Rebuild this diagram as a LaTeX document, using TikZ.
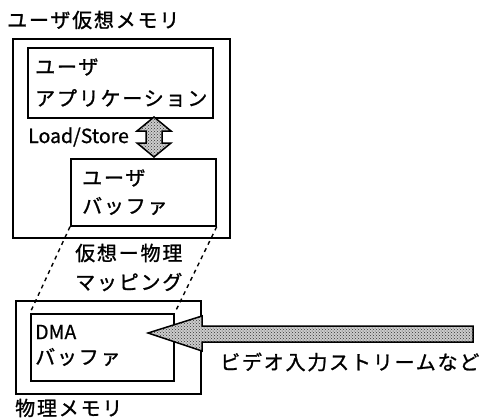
\documentclass[tikz,border=0pt]{standalone}
\usepackage{fontspec}
\setmainfont{Noto Sans CJK JP}[FakeBold=0.8]
\newfontfamily\jp{Noto Sans CJK JP}[LetterSpace=9,FakeBold=1.2]
\usetikzlibrary{patterns}
\begin{document}
\begin{tikzpicture}[x=1pt,y=-1pt,
  box/.style={draw,line width=1.7pt,inner sep=0pt,anchor=north west},
  jt/.style={font=\jp\fontsize{20}{20}\selectfont,inner sep=0pt,anchor=west},
  lt/.style={font=\fontsize{19.5}{20}\selectfont,inner sep=0pt,anchor=west},
  hatch/.style={draw,line width=1.5pt,line join=miter,preaction={fill=gray!40},pattern=crosshatch dots,pattern color=black!80},
  map/.style={dash pattern=on 4pt off 4pt,line width=1.4pt}]
\useasboundingbox (0,0) rectangle (486,418);
% boxes
\node[box,minimum width=217pt,minimum height=199pt] (uvm) at (12,38) {};
\node[box,minimum width=185pt,minimum height=70pt] (app) at (27,47) {};
\node[box,minimum width=145pt,minimum height=67pt] (ubuf) at (70,158) {};
\node[box,minimum width=185pt,minimum height=93pt] (pm) at (15,300) {};
\node[box,minimum width=143pt,minimum height=67pt] (dma) at (30,313) {};
% texts
\node[jt] (t1) at (7,20) {ユーザ仮想メモリ};
\node[jt] (t2) at (35,67) {ユーザ};
\node[jt] (t3) at (35,98) {アプリケーション};
\node[lt] (t4) at (28,137) {Load/Store};
\node[jt] (t5) at (82,178) {ユーザ};
\node[jt] (t6) at (82,206) {バッファ};
\node[jt] (t7) at (75,253) {仮想ー物理};
\node[jt] (t8) at (75,282) {マッピング};
\node[lt] (t9) at (35,332) {DMA};
\node[jt] (t10) at (35,357) {バッファ};
\node[jt] (t11) at (220,362) {ビデオ入力ストリームなど};
\node[jt] (t12) at (15,408) {物理メモリ};
% mapping lines
\draw[map] (ubuf.south west) -- (dma.north west);
\draw[map] (ubuf.south east) -- (dma.north east);
% load/store double arrow
\draw[hatch] (154,117) -- (171,131) -- (162,131) -- (162,143) -- (171,143) -- (154,157)
  -- (137,143) -- (146,143) -- (146,131) -- (137,131) -- cycle;
% input arrow
\draw[hatch] (148,333) -- (202,316) -- (202,326) -- (473,326) -- (473,342) -- (202,342) -- (202,351) -- cycle;
\end{tikzpicture}
\end{document}
